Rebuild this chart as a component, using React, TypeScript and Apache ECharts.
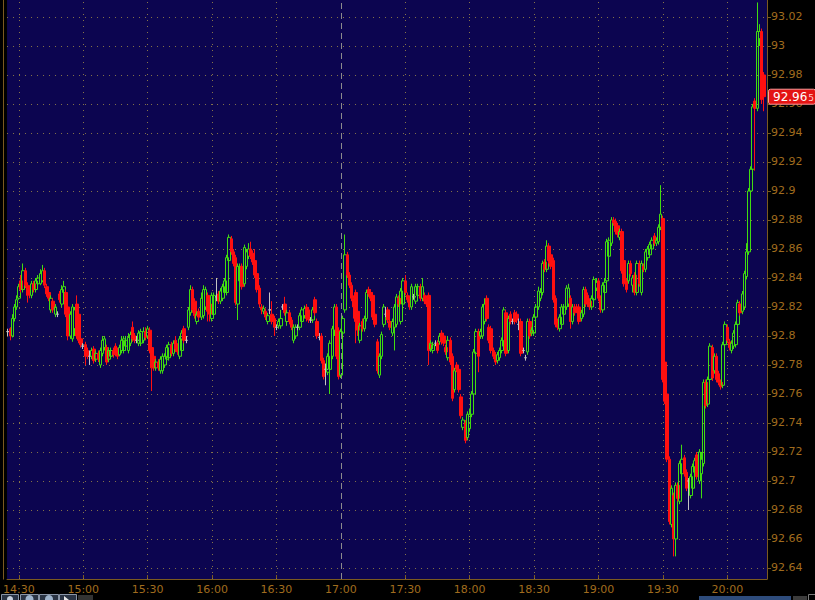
import React, { useEffect, useRef } from 'react';
import * as echarts from 'echarts';

// x domain: one-minute bars from 14:25, 354 slots
const START_TIME = '14:25';
const SLOT_COUNT = 354;
const TIME_LABELS = ['14:30', '15:00', '15:30', '16:00', '16:30', '17:00', '17:30', '18:00', '18:30', '19:00', '19:30', '20:00'];
const SESSION_BREAK = '17:00';
const Y_TICKS = [92.64, 92.66, 92.68, 92.7, 92.72, 92.74, 92.76, 92.78, 92.8, 92.82, 92.84, 92.86, 92.88, 92.9, 92.92, 92.94, 92.96, 92.98, 93, 93.02];

const OPEN = [
  92.803, 92.805, 92.8, 92.812, 92.82, 92.826, 92.838, 92.832, 92.845, 92.835,
  92.833, 92.828, 92.836, 92.832, 92.836, 92.836, 92.838, 92.845, 92.834, 92.83,
  92.818, 92.824, 92.815, 92.815, 92.829, 92.822, 92.83, 92.83, 92.82, 92.8,
  92.798, 92.805, 92.822, 92.815, 92.798, 92.793, 92.794, 92.79, 92.786, 92.786,
  92.791, 92.784, 92.788, 92.78, 92.788, 92.792, 92.792, 92.784, 92.786, 92.79,
  92.793, 92.79, 92.787, 92.79, 92.79, 92.793, 92.79, 92.795, 92.806, 92.8,
  92.797, 92.795, 92.795, 92.797, 92.803, 92.8, 92.804, 92.792, 92.786, 92.778,
  92.782, 92.776, 92.776, 92.78, 92.784, 92.785, 92.794, 92.788, 92.797, 92.793,
  92.786, 92.79, 92.805, 92.797, 92.806, 92.816, 92.832, 92.824, 92.81, 92.817,
  92.813, 92.814, 92.82, 92.828, 92.822, 92.812, 92.815, 92.827, 92.829, 92.824,
  92.826, 92.83, 92.83, 92.852, 92.867, 92.858, 92.854, 92.822, 92.838, 92.848,
  92.836, 92.848, 92.855, 92.86, 92.857, 92.852, 92.843, 92.833, 92.82, 92.817,
  92.817, 92.81, 92.818, 92.815, 92.812, 92.806, 92.807, 92.807, 92.82, 92.822,
  92.81, 92.816, 92.811, 92.797, 92.8, 92.806, 92.806, 92.81, 92.814, 92.82,
  92.818, 92.811, 92.811, 92.825, 92.81, 92.799, 92.8, 92.783, 92.777, 92.775,
  92.777, 92.786, 92.804, 92.82, 92.804, 92.773, 92.802, 92.818, 92.856, 92.842,
  92.835, 92.826, 92.83, 92.817, 92.797, 92.81, 92.805, 92.812, 92.832, 92.83,
  92.828, 92.815, 92.796, 92.773, 92.786, 92.808, 92.815, 92.818, 92.81, 92.802,
  92.806, 92.808, 92.826, 92.81, 92.822, 92.838, 92.828, 92.826, 92.82, 92.827,
  92.824, 92.828, 92.834, 92.826, 92.828, 92.826, 92.828, 92.791, 92.79, 92.795,
  92.795, 92.796, 92.802, 92.8, 92.792, 92.785, 92.797, 92.786, 92.763, 92.78,
  92.777, 92.758, 92.737, 92.74, 92.73, 92.736, 92.746, 92.76, 92.788, 92.803,
  92.8, 92.8, 92.81, 92.826, 92.806, 92.805, 92.79, 92.787, 92.783, 92.785,
  92.79, 92.793, 92.816, 92.79, 92.815, 92.81, 92.816, 92.815, 92.808, 92.81,
  92.79, 92.785, 92.789, 92.81, 92.802, 92.802, 92.813, 92.82, 92.826, 92.83,
  92.851, 92.846, 92.862, 92.856, 92.852, 92.826, 92.81, 92.805, 92.808, 92.815,
  92.82, 92.822, 92.826, 92.81, 92.82, 92.82, 92.82, 92.812, 92.815, 92.832,
  92.828, 92.824, 92.82, 92.825, 92.833, 92.838, 92.826, 92.818, 92.83, 92.838,
  92.855, 92.864, 92.88, 92.879, 92.876, 92.868, 92.872, 92.852, 92.838, 92.838,
  92.85, 92.835, 92.842, 92.83, 92.85, 92.83, 92.848, 92.846, 92.854, 92.856,
  92.86, 92.869, 92.864, 92.865, 92.875, 92.881, 92.782, 92.76, 92.715, 92.67,
  92.69, 92.66, 92.697, 92.686, 92.705, 92.716, 92.706, 92.7, 92.69, 92.695,
  92.706, 92.718, 92.7, 92.705, 92.712, 92.768, 92.753, 92.77, 92.792, 92.776,
  92.786, 92.774, 92.768, 92.766, 92.794, 92.806, 92.796, 92.79, 92.793, 92.794,
  92.808, 92.822, 92.817, 92.82, 92.841, 92.858, 92.9, 92.915, 92.962, 92.957,
  93.005, 93.01, 92.98,
];

const CLOSE = [
  92.803, 92.8, 92.812, 92.82, 92.825, 92.834, 92.832, 92.845, 92.835, 92.828,
  92.83, 92.836, 92.832, 92.838, 92.84, 92.843, 92.845, 92.835, 92.829, 92.826,
  92.826, 92.818, 92.82, 92.815, 92.825, 92.832, 92.834, 92.815, 92.8, 92.815,
  92.82, 92.818, 92.8, 92.797, 92.794, 92.793, 92.786, 92.786, 92.786, 92.79,
  92.783, 92.788, 92.784, 92.79, 92.797, 92.798, 92.782, 92.79, 92.79, 92.787,
  92.788, 92.786, 92.792, 92.797, 92.798, 92.797, 92.799, 92.801, 92.798, 92.797,
  92.797, 92.802, 92.803, 92.803, 92.799, 92.805, 92.79, 92.778, 92.778, 92.782,
  92.778, 92.784, 92.786, 92.786, 92.792, 92.794, 92.788, 92.795, 92.791, 92.789,
  92.798, 92.802, 92.797, 92.797, 92.818, 92.832, 92.818, 92.814, 92.815, 92.813,
  92.826, 92.832, 92.832, 92.817, 92.815, 92.828, 92.828, 92.827, 92.824, 92.831,
  92.834, 92.838, 92.854, 92.868, 92.858, 92.85, 92.823, 92.848, 92.848, 92.834,
  92.861, 92.858, 92.86, 92.855, 92.851, 92.842, 92.832, 92.822, 92.818, 92.819,
  92.813, 92.814, 92.818, 92.81, 92.806, 92.806, 92.81, 92.812, 92.82, 92.816,
  92.816, 92.81, 92.806, 92.806, 92.806, 92.806, 92.814, 92.818, 92.819, 92.812,
  92.811, 92.811, 92.818, 92.816, 92.8, 92.799, 92.783, 92.772, 92.777, 92.786,
  92.795, 92.805, 92.82, 92.786, 92.772, 92.803, 92.812, 92.856, 92.842, 92.835,
  92.826, 92.82, 92.81, 92.804, 92.807, 92.805, 92.812, 92.83, 92.829, 92.826,
  92.813, 92.808, 92.776, 92.786, 92.801, 92.82, 92.815, 92.811, 92.806, 92.81,
  92.82, 92.827, 92.822, 92.831, 92.838, 92.83, 92.825, 92.82, 92.834, 92.827,
  92.834, 92.834, 92.826, 92.834, 92.824, 92.822, 92.79, 92.795, 92.794, 92.795,
  92.79, 92.8, 92.796, 92.795, 92.789, 92.797, 92.782, 92.757, 92.776, 92.777,
  92.763, 92.745, 92.742, 92.728, 92.746, 92.746, 92.76, 92.789, 92.803, 92.786,
  92.803, 92.82, 92.822, 92.812, 92.797, 92.79, 92.786, 92.782, 92.787, 92.79,
  92.797, 92.818, 92.788, 92.812, 92.81, 92.81, 92.81, 92.811, 92.808, 92.788,
  92.79, 92.785, 92.81, 92.8, 92.804, 92.813, 92.82, 92.831, 92.83, 92.85,
  92.846, 92.862, 92.852, 92.848, 92.825, 92.808, 92.806, 92.813, 92.82, 92.82,
  92.833, 92.833, 92.81, 92.82, 92.816, 92.818, 92.81, 92.816, 92.832, 92.822,
  92.822, 92.82, 92.826, 92.839, 92.837, 92.826, 92.818, 92.835, 92.837, 92.865,
  92.866, 92.88, 92.878, 92.872, 92.87, 92.872, 92.845, 92.836, 92.832, 92.85,
  92.843, 92.84, 92.83, 92.85, 92.836, 92.85, 92.846, 92.858, 92.86, 92.863,
  92.866, 92.864, 92.866, 92.875, 92.884, 92.77, 92.755, 92.715, 92.672, 92.695,
  92.66, 92.697, 92.688, 92.712, 92.715, 92.705, 92.695, 92.7, 92.703, 92.71,
  92.714, 92.703, 92.72, 92.715, 92.768, 92.752, 92.77, 92.793, 92.771, 92.786,
  92.77, 92.768, 92.765, 92.794, 92.808, 92.797, 92.792, 92.795, 92.802, 92.808,
  92.823, 92.816, 92.829, 92.843, 92.858, 92.9, 92.915, 92.958, 92.957, 93.01,
  93.01, 92.963, 92.965,
];

const LOW = [
  92.8, 92.797, 92.799, 92.81, 92.818, 92.825, 92.83, 92.83, 92.833, 92.823,
  92.826, 92.826, 92.83, 92.83, 92.834, 92.835, 92.837, 92.833, 92.827, 92.824,
  92.816, 92.816, 92.813, 92.813, 92.823, 92.82, 92.828, 92.813, 92.797, 92.798,
  92.796, 92.8, 92.798, 92.795, 92.792, 92.791, 92.78, 92.784, 92.78, 92.784,
  92.781, 92.782, 92.782, 92.778, 92.786, 92.79, 92.78, 92.782, 92.785, 92.785,
  92.786, 92.784, 92.786, 92.788, 92.788, 92.79, 92.788, 92.793, 92.796, 92.795,
  92.795, 92.793, 92.793, 92.795, 92.797, 92.798, 92.788, 92.762, 92.776, 92.776,
  92.776, 92.774, 92.774, 92.778, 92.782, 92.783, 92.786, 92.786, 92.789, 92.787,
  92.784, 92.788, 92.795, 92.795, 92.804, 92.814, 92.816, 92.812, 92.808, 92.811,
  92.811, 92.812, 92.818, 92.81, 92.81, 92.81, 92.813, 92.824, 92.822, 92.822,
  92.824, 92.828, 92.828, 92.85, 92.856, 92.848, 92.821, 92.811, 92.836, 92.832,
  92.834, 92.846, 92.853, 92.853, 92.849, 92.84, 92.83, 92.82, 92.815, 92.815,
  92.811, 92.808, 92.815, 92.808, 92.8, 92.804, 92.805, 92.805, 92.818, 92.814,
  92.807, 92.808, 92.804, 92.795, 92.798, 92.804, 92.804, 92.808, 92.812, 92.81,
  92.809, 92.809, 92.809, 92.814, 92.798, 92.797, 92.781, 92.77, 92.766, 92.773,
  92.76, 92.784, 92.8, 92.784, 92.77, 92.771, 92.8, 92.816, 92.84, 92.833,
  92.824, 92.812, 92.795, 92.8, 92.795, 92.803, 92.803, 92.81, 92.827, 92.824,
  92.811, 92.806, 92.774, 92.771, 92.784, 92.806, 92.813, 92.809, 92.804, 92.8,
  92.79, 92.806, 92.82, 92.808, 92.82, 92.828, 92.823, 92.818, 92.818, 92.825,
  92.822, 92.826, 92.824, 92.824, 92.822, 92.82, 92.78, 92.789, 92.788, 92.793,
  92.788, 92.794, 92.794, 92.793, 92.787, 92.783, 92.78, 92.755, 92.761, 92.775,
  92.761, 92.743, 92.735, 92.726, 92.728, 92.734, 92.744, 92.758, 92.786, 92.775,
  92.798, 92.798, 92.808, 92.81, 92.795, 92.788, 92.784, 92.78, 92.781, 92.783,
  92.788, 92.791, 92.786, 92.788, 92.808, 92.808, 92.808, 92.809, 92.804, 92.786,
  92.788, 92.783, 92.787, 92.798, 92.8, 92.8, 92.811, 92.818, 92.824, 92.828,
  92.844, 92.844, 92.85, 92.846, 92.823, 92.806, 92.804, 92.803, 92.806, 92.813,
  92.818, 92.82, 92.805, 92.808, 92.814, 92.816, 92.808, 92.81, 92.813, 92.82,
  92.82, 92.818, 92.818, 92.823, 92.831, 92.824, 92.816, 92.816, 92.828, 92.836,
  92.853, 92.862, 92.876, 92.87, 92.868, 92.866, 92.843, 92.834, 92.83, 92.836,
  92.841, 92.83, 92.828, 92.828, 92.834, 92.828, 92.844, 92.844, 92.852, 92.854,
  92.858, 92.862, 92.862, 92.863, 92.873, 92.768, 92.753, 92.713, 92.67, 92.668,
  92.648, 92.648, 92.686, 92.684, 92.703, 92.703, 92.693, 92.68, 92.688, 92.693,
  92.704, 92.701, 92.698, 92.688, 92.71, 92.75, 92.751, 92.768, 92.769, 92.774,
  92.768, 92.766, 92.763, 92.764, 92.792, 92.795, 92.79, 92.788, 92.791, 92.792,
  92.806, 92.814, 92.815, 92.818, 92.839, 92.856, 92.898, 92.912, 92.914, 92.955,
  93.0, 92.96, 92.955,
];

const HIGH = [
  92.805, 92.806, 92.815, 92.822, 92.828, 92.836, 92.842, 92.85, 92.847, 92.837,
  92.835, 92.838, 92.838, 92.84, 92.842, 92.846, 92.849, 92.847, 92.836, 92.832,
  92.828, 92.826, 92.822, 92.817, 92.831, 92.835, 92.838, 92.832, 92.822, 92.817,
  92.822, 92.82, 92.828, 92.818, 92.8, 92.795, 92.796, 92.792, 92.79, 92.792,
  92.793, 92.79, 92.79, 92.792, 92.8, 92.8, 92.794, 92.792, 92.792, 92.792,
  92.795, 92.792, 92.794, 92.8, 92.8, 92.8, 92.802, 92.803, 92.81, 92.802,
  92.8, 92.804, 92.805, 92.806, 92.806, 92.807, 92.806, 92.794, 92.788, 92.784,
  92.784, 92.786, 92.788, 92.788, 92.794, 92.796, 92.796, 92.797, 92.8, 92.795,
  92.8, 92.804, 92.807, 92.8, 92.82, 92.835, 92.834, 92.826, 92.817, 92.819,
  92.83, 92.835, 92.834, 92.83, 92.824, 92.83, 92.83, 92.84, 92.831, 92.833,
  92.836, 92.84, 92.856, 92.87, 92.869, 92.86, 92.856, 92.85, 92.85, 92.85,
  92.863, 92.86, 92.864, 92.865, 92.859, 92.86, 92.845, 92.835, 92.822, 92.821,
  92.819, 92.816, 92.83, 92.824, 92.814, 92.808, 92.812, 92.818, 92.822, 92.827,
  92.818, 92.818, 92.813, 92.808, 92.808, 92.808, 92.816, 92.82, 92.821, 92.822,
  92.82, 92.813, 92.82, 92.827, 92.812, 92.802, 92.802, 92.785, 92.781, 92.788,
  92.797, 92.807, 92.822, 92.822, 92.806, 92.805, 92.814, 92.87, 92.858, 92.844,
  92.837, 92.828, 92.832, 92.819, 92.809, 92.812, 92.814, 92.832, 92.834, 92.832,
  92.83, 92.817, 92.798, 92.788, 92.803, 92.822, 92.82, 92.82, 92.812, 92.812,
  92.822, 92.829, 92.828, 92.833, 92.84, 92.842, 92.83, 92.828, 92.836, 92.829,
  92.836, 92.836, 92.836, 92.84, 92.83, 92.828, 92.83, 92.797, 92.796, 92.797,
  92.797, 92.802, 92.804, 92.802, 92.794, 92.8, 92.799, 92.788, 92.778, 92.782,
  92.779, 92.76, 92.744, 92.742, 92.748, 92.75, 92.762, 92.791, 92.805, 92.805,
  92.805, 92.822, 92.826, 92.828, 92.808, 92.807, 92.792, 92.789, 92.789, 92.792,
  92.799, 92.82, 92.818, 92.814, 92.817, 92.812, 92.818, 92.817, 92.812, 92.812,
  92.792, 92.787, 92.812, 92.812, 92.806, 92.815, 92.822, 92.834, 92.833, 92.852,
  92.853, 92.866, 92.864, 92.858, 92.854, 92.828, 92.812, 92.815, 92.822, 92.822,
  92.835, 92.836, 92.828, 92.822, 92.822, 92.822, 92.822, 92.818, 92.834, 92.834,
  92.83, 92.826, 92.828, 92.841, 92.84, 92.84, 92.828, 92.837, 92.84, 92.867,
  92.868, 92.882, 92.882, 92.881, 92.878, 92.874, 92.874, 92.854, 92.84, 92.852,
  92.852, 92.842, 92.844, 92.852, 92.852, 92.852, 92.85, 92.86, 92.862, 92.865,
  92.868, 92.871, 92.868, 92.877, 92.904, 92.883, 92.784, 92.762, 92.717, 92.697,
  92.692, 92.699, 92.699, 92.714, 92.725, 92.718, 92.708, 92.702, 92.705, 92.712,
  92.716, 92.72, 92.722, 92.72, 92.77, 92.77, 92.772, 92.795, 92.794, 92.788,
  92.788, 92.776, 92.77, 92.796, 92.81, 92.808, 92.798, 92.797, 92.804, 92.81,
  92.825, 92.824, 92.831, 92.845, 92.864, 92.902, 92.917, 92.96, 92.964, 93.03,
  93.015, 93.012, 92.982,
];

const FONT = 'DejaVu Sans';
const AXIS_TEXT = '#a06c1e';
const AXIS_LINE = '#7b5a20';
const GRID_DOTS = '#86744a';
const PLOT_BG = '#0c0550';
const UP_COLOR = '#40dd10';
const DOWN_COLOR = '#ff1010';
const DOJI_COLOR = '#c4c4c4';

function buildCategories(): string[] {
  const [h, m] = START_TIME.split(':').map(Number);
  const out: string[] = [];
  for (let i = 0; i < SLOT_COUNT; i++) {
    const t = h * 60 + m + i;
    const hh = Math.floor(t / 60);
    const mm = t % 60;
    out.push(`${hh}:${mm < 10 ? '0' : ''}${mm}`);
  }
  return out;
}

function fmtPrice(v: number): string {
  return String(Number(v.toFixed(2)));
}

export default function App() {
  const ref = useRef<HTMLDivElement>(null);

  useEffect(() => {
    document.body.style.margin = '0';
    document.body.style.background = '#000';
    const el = ref.current!;
    const chart = echarts.init(el, null, { renderer: 'svg' });
    const categories = buildCategories();
    const labelSet = new Set(TIME_LABELS);
    const showLabel = (_i: number, v: string) => labelSet.has(v);
    const candles = OPEN.map((o, i) => [o, CLOSE[i], LOW[i], HIGH[i]]);

    const gridMarks: any[] = [];
    Y_TICKS.forEach((v) => gridMarks.push({ yAxis: v }));
    TIME_LABELS.forEach((t) => {
      const idx = categories.indexOf(t);
      if (t === SESSION_BREAK) {
        gridMarks.push({ xAxis: idx, lineStyle: { color: '#8c8c8c', type: [6, 4], width: 1 } });
      } else {
        gridMarks.push({ xAxis: idx });
      }
    });

    const option: any = {
      animation: false,
      backgroundColor: '#000',
      textStyle: { fontFamily: FONT },
      grid: {
        left: 4,
        top: 0,
        width: 763,
        height: 579,
        show: true,
        backgroundColor: PLOT_BG,
        borderWidth: 0,
      },
      xAxis: {
        type: 'category',
        data: categories,
        boundaryGap: true,
        axisLine: { show: true, lineStyle: { color: AXIS_LINE, width: 1 } },
        axisTick: { show: true, inside: true, length: 4, alignWithLabel: true, interval: showLabel, lineStyle: { color: AXIS_LINE } },
        axisLabel: { show: true, interval: showLabel, color: AXIS_TEXT, fontSize: 11, fontFamily: FONT, margin: 5 },
        splitLine: { show: false },
      },
      yAxis: {
        type: 'value',
        position: 'right',
        min: 92.6324,
        max: 93.0317,
        scale: true,
        axisLine: { show: true, lineStyle: { color: AXIS_LINE, width: 1 } },
        axisTick: { show: true, length: 4, customValues: Y_TICKS, lineStyle: { color: AXIS_LINE } },
        axisLabel: {
          show: true,
          customValues: Y_TICKS,
          formatter: (v: number) => fmtPrice(v),
          color: AXIS_TEXT,
          fontSize: 11,
          fontFamily: FONT,
          margin: 4,
        },
        splitLine: { show: false },
      },
      series: [
        {
          name: 'grid',
          type: 'line',
          data: [],
          z: 1,
          silent: true,
          markLine: {
            z: 1,
            silent: true,
            animation: false,
            symbol: ['none', 'none'],
            label: { show: false },
            emphasis: { disabled: true },
            lineStyle: { color: GRID_DOTS, type: [1, 5], width: 1 },
            data: gridMarks,
          },
        },
        {
          name: 'price',
          type: 'candlestick',
          data: candles,
          barWidth: 3,
          z: 3,
          silent: true,
          itemStyle: {
            color: 'transparent',
            color0: DOWN_COLOR,
            borderColor: UP_COLOR,
            borderColor0: DOWN_COLOR,
            borderColorDoji: DOJI_COLOR,
            borderWidth: 1,
          },
        },
      ],
    };
    chart.setOption(option);

    const last = CLOSE[CLOSE.length - 1];
    const py = chart.convertToPixel({ yAxisIndex: 0 }, last) as number;
    const s = last.toFixed(3);
    const plotBottom = 579;

    chart.setOption({
      graphic: [
        { type: 'line', shape: { x1: 3.5, y1: 0, x2: 3.5, y2: plotBottom + 0.5 }, style: { stroke: AXIS_LINE, lineWidth: 1 }, z: 50, silent: true },
        {
          type: 'rect',
          shape: { x: 768.5, y: py - 7.5, width: 47, height: 15, r: 2 },
          style: { fill: '#e31414', stroke: '#ff9a9a', lineWidth: 1 },
          z: 100,
          silent: true,
        },
        {
          type: 'text',
          x: 773,
          y: py + 0.5,
          z: 101,
          silent: true,
          style: {
            text: `${s.slice(0, -1)}{s|${s.slice(-1)}}`,
            fill: '#ffffff',
            fontSize: 12,
            fontFamily: FONT,
            verticalAlign: 'middle',
            rich: { s: { fontSize: 9, fill: '#ffd0d0', fontFamily: FONT, padding: [2, 0, 0, 1] } },
          },
        },
        // bottom-left toolbar buttons
        { type: 'rect', shape: { x: 1.5, y: 594.5, width: 17, height: 8 }, style: { fill: '#2a3444', stroke: '#8a96a8', lineWidth: 1 }, silent: true },
        { type: 'rect', shape: { x: 20.5, y: 594.5, width: 18, height: 8 }, style: { fill: '#2a3444', stroke: '#8a96a8', lineWidth: 1 }, silent: true },
        { type: 'rect', shape: { x: 39.5, y: 594.5, width: 19, height: 8 }, style: { fill: '#2a3444', stroke: '#8a96a8', lineWidth: 1 }, silent: true },
        { type: 'rect', shape: { x: 59.5, y: 594.5, width: 17, height: 8 }, style: { fill: '#2a3444', stroke: '#8a96a8', lineWidth: 1 }, silent: true },
        { type: 'rect', shape: { x: 78, y: 595, width: 15, height: 6 }, style: { fill: '#333333' }, silent: true },
        { type: 'circle', shape: { cx: 10, cy: 599, r: 3 }, style: { fill: '#c8d0dc' }, silent: true },
        { type: 'circle', shape: { cx: 29.5, cy: 599, r: 4 }, style: { fill: '#9fb4cc' }, silent: true },
        { type: 'circle', shape: { cx: 49, cy: 599, r: 4 }, style: { fill: '#9fb4cc' }, silent: true },
        { type: 'polygon', shape: { points: [[64, 596], [64, 602], [69, 600]] }, style: { fill: '#e8e8e8' }, silent: true },
        // bottom-right scrollbar
        { type: 'rect', shape: { x: 699, y: 596, width: 92, height: 5 }, style: { fill: '#2e4c7c' }, silent: true },
        { type: 'rect', shape: { x: 793, y: 596, width: 14, height: 5 }, style: { fill: '#3c3c3c' }, silent: true },
        { type: 'rect', shape: { x: 808.5, y: 594.5, width: 8, height: 8 }, style: { fill: 'none', stroke: '#7a7a7a', lineWidth: 1 }, silent: true },
      ],
    });

    return () => chart.dispose();
  }, []);

  return <div ref={ref} style={{ width: 815, height: 600, background: '#000' }} />;
}
